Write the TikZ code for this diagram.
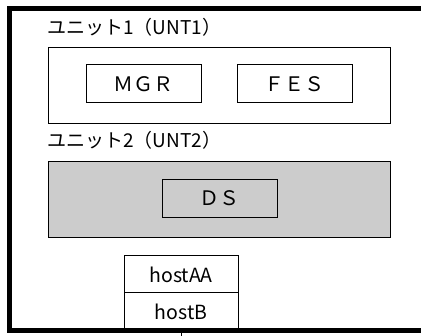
\documentclass[tikz,border=0pt]{standalone}
\usepackage{fontspec}
\setmainfont{Noto Sans CJK JP}
\begin{document}
\begin{tikzpicture}[x=1pt,y=-1pt,
  unitbox/.style={draw,line width=1pt,anchor=north west,inner sep=0pt},
  compbox/.style={draw,line width=1pt,inner sep=0pt,minimum width=115pt,minimum height=38pt,font=\fontsize{20}{20}\selectfont},
  hostbox/.style={draw,line width=1pt,inner sep=0pt,minimum width=114pt,font=\fontsize{19.5}{19.5}\selectfont},
  unitlabel/.style={anchor=west,inner sep=0pt,font=\fontsize{19}{19}\selectfont},
  frame/.style={line width=5pt}]
\useasboundingbox (0,0) rectangle (421,336);
% outer frame
\coordinate (ftr) at (421,9);
\coordinate (ftl) at (9.5,9);
\coordinate (fbl) at (9.5,331);
\coordinate (fbr) at (421,331);
% unit 1
\node[unitlabel] (l1) at (47,27.5) {ユニット1（UNT1）};
\node[unitbox,minimum width=342pt,minimum height=76pt] (u1) at (48,47) {};
\node[compbox] (mgr) at (143.5,84) {ＭＧＲ};
\node[compbox] (fes) at (294.5,84) {ＦＥＳ};
% unit 2
\node[unitlabel] (l2) at (47,140.5) {ユニット2（UNT2）};
\node[unitbox,fill=gray!40,minimum width=342pt,minimum height=76pt] (u2) at (48,161) {};
\node[compbox] (ds) at (219.5,198.5) {ＤＳ};
% hosts
\node[hostbox,minimum height=37pt] (ha) at (181,274.5) {hostAA};
\node[hostbox,minimum height=38pt] (hb) at (181,312) {hostB};
\coordinate (tick) at (181,336);
\draw (hb.south) -- (tick);
\draw[frame] (ftr) -- (ftl) -- (fbl) -- (fbr);
\end{tikzpicture}
\end{document}
